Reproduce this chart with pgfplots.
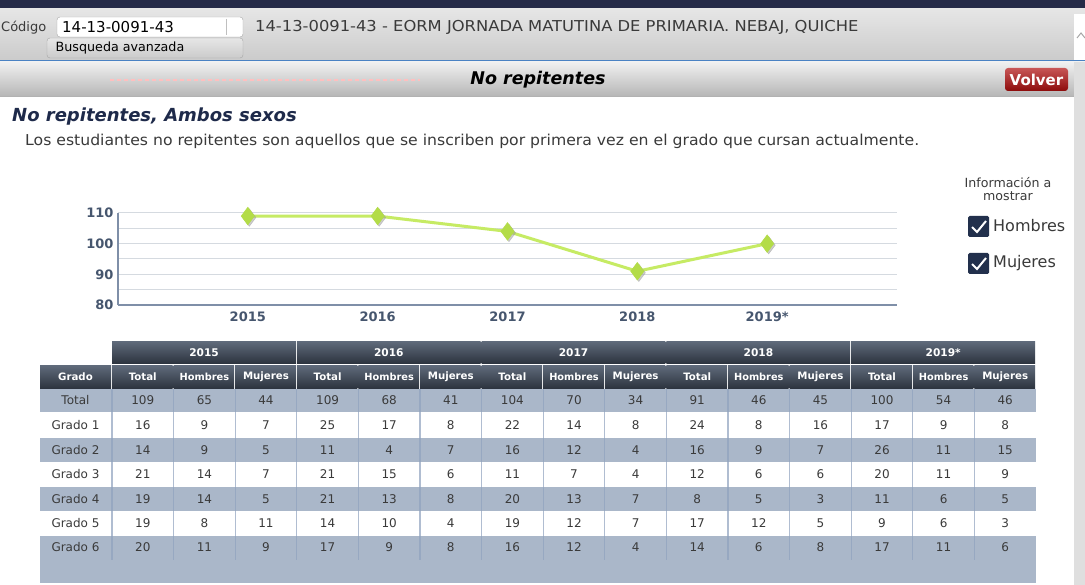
\documentclass[border=0pt]{standalone}
\usepackage{pgfplots}
\pgfplotsset{compat=1.18}
\usepackage{fontspec}
\setmainfont{DejaVu Sans}

\definecolor{navy}{HTML}{252B48}
\definecolor{hdrA}{HTML}{E6E6E6}
\definecolor{hdrB}{HTML}{CBCBCB}
\definecolor{bluebar}{HTML}{4A82C3}
\definecolor{titlenavy}{HTML}{1E2A4A}
\definecolor{txtgray}{HTML}{3A3A3A}
\definecolor{rowblue}{HTML}{AAB7C9}
\definecolor{hdA}{HTML}{5E6979}
\definecolor{hdB}{HTML}{2B323D}
\definecolor{sepblue}{HTML}{8FA2BE}
\definecolor{lime}{HTML}{C6EB64}
\definecolor{limemark}{HTML}{B3DC48}
\definecolor{ticktxt}{HTML}{46566E}
\definecolor{gridc}{HTML}{D5DAE0}
\definecolor{axisc}{HTML}{7F8FA8}
\definecolor{chk}{HTML}{22304C}
\definecolor{volver}{HTML}{B00E0E}

\newcommand{\fs}[1]{\fontsize{#1}{#1}\selectfont}

% table values, one macro per row (Total, Hombres, Mujeres for 2015..2019*)
\def\rowT{109,65,44,109,68,41,104,70,34,91,46,45,100,54,46}
\def\rowA{16,9,7,25,17,8,22,14,8,24,8,16,17,9,8}
\def\rowB{14,9,5,11,4,7,16,12,4,16,9,7,26,11,15}
\def\rowC{21,14,7,21,15,6,11,7,4,12,6,6,20,11,9}
\def\rowD{19,14,5,21,13,8,20,13,7,8,5,3,11,6,5}
\def\rowE{19,8,11,14,10,4,19,12,7,17,12,5,9,6,3}
\def\rowF{20,11,9,17,9,8,16,12,4,14,6,8,17,11,6}

\begin{document}
\begin{tikzpicture}[x=1pt,y=-1pt]
\useasboundingbox (0,0) rectangle (1085,585);
\fill[white] (0,0) rectangle (1085,585);

% ---- top header ----
\fill[navy] (0,0) rectangle (1085,9);
\shade[top color=hdrA,bottom color=hdrB] (0,9) rectangle (1085,60);
\node[anchor=west,text=txtgray,font=\fs{13},inner sep=0] at (1,28) {Código};
\draw[gray!70,fill=white,rounded corners=3pt] (57,17) rectangle (243,37);
\node[anchor=west,text=black,font=\fs{15},inner sep=0] at (62,27) {14-13-0091-43};
\draw[gray!50] (226,19) -- (226,35);
\shade[top color=hdrA,bottom color=hdrB,draw=gray!70,rounded corners=3pt] (47,38) rectangle (243,58);
\node[text=black,font=\fs{12.7},inner sep=0] at (120,48) {Busqueda avanzada};
\node[anchor=west,text=txtgray,font=\fs{15},inner sep=0] at (255,27)
  {\scalebox{1.09}[1]{14-13-0091-43 - EORM JORNADA MATUTINA DE PRIMARIA. NEBAJ, QUICHE}};
\fill[bluebar] (0,60) rectangle (1085,62);

% ---- title bar ----
\shade[top color=hdrA!60!white,bottom color=hdrB!90!black] (0,62) rectangle (1085,96);
\draw[gray!60] (0,96) -- (1085,96);
\draw[red!25,dash pattern=on 4pt off 3pt,line width=1.2pt] (110,80) -- (420,80);
\node[text=black,font=\bfseries\itshape\fs{17.5},inner sep=0] at (538,80) {No repitentes};
\shade[top color=volver!70!white,bottom color=volver!80!black,rounded corners=3pt] (1005,68) rectangle (1068,91);
\node[text=white,font=\bfseries\fs{15},inner sep=0] at (1036.5,79.5) {Volver};

% ---- scrollbar ----
\fill[gray!25] (1074,62) rectangle (1085,585);
\fill[white] (1074,14) rectangle (1085,60);
\draw[gray!70,line width=1pt] (1077,38) -- (1081,33) -- (1085,38);

% ---- headings ----
\node[anchor=west,text=titlenavy,font=\bfseries\itshape\fs{18},inner sep=0] at (12,117) {No repitentes, Ambos sexos};
\node[anchor=west,text=txtgray,font=\fs{15},inner sep=0] at (25,141)
  {\scalebox{1.045}[1]{Los estudiantes no repitentes son aquellos que se inscriben por primera vez en el grado que cursan actualmente.}};

% ---- chart ----
\begin{axis}[
    at={(118pt,-305pt)}, anchor=south west,
    scale only axis, width=779pt, height=92pt,
    xmin=-1, xmax=5, ymin=80, ymax=110,
    axis x line*=bottom, axis y line*=left,
    axis line style={axisc, line width=1.3pt, -},
    xtick={0,1,2,3,4},
    xticklabels={2015,2016,2017,2018,2019*},
    ytick={80,90,100,110},
    minor ytick={85,95,105},
    ymajorgrids, yminorgrids,
    major grid style={gridc, line width=1pt},
    minor grid style={gridc, line width=1pt},
    major tick length=0pt, minor tick length=0pt,
    /pgf/number format/assume math mode=true,
    tick label style={font=\bfseries\fs{13}, text=ticktxt},
    xticklabel style={yshift=-3pt},
    yticklabel style={xshift=-1pt},
    clip=false,
]
\addplot[only marks, mark=diamond*, mark size=8.8pt, black!40, opacity=0.5,
    mark options={xshift=1.5pt, yshift=-1.5pt}]
    coordinates {(0,109) (1,109) (2,104) (3,91) (4,100)};
\addplot[lime, line width=3pt, mark=diamond*, mark size=8.8pt,
    mark options={fill=limemark, draw=limemark, line width=0.5pt}]
    coordinates {(0,109) (1,109) (2,104) (3,91) (4,100)};
\end{axis}

% ---- legend (checkboxes) ----
\node[align=center,text=txtgray,font=\fs{12.6},inner sep=0] at (1008,189) {Información a\\[1pt]mostrar};
\foreach \yy/\lab in {216/Hombres,253/Mujeres}{
  \fill[chk,rounded corners=1.5pt] (968,\yy) rectangle (989,\yy+21);
  \draw[white,line width=2pt] (972,\yy+11) -- (977,\yy+16) -- (986,\yy+5);
  \node[anchor=west,text=txtgray,font=\fs{16},inner sep=0] at (993,\yy+10) {\lab};
}

% ---- table ----
% row bands
\fill[rowblue] (40,389) rectangle (1036,412);
\fill[rowblue] (40,438) rectangle (1036,462);
\fill[rowblue] (40,487) rectangle (1036,511);
\fill[rowblue] (40,536) rectangle (1036,583);
% header cells
\foreach \g [count=\k from 0] in {2015,2016,2017,2018,2019*}{
  \shade[top color=hdA,bottom color=hdB] (112+184.8*\k,342) rectangle (112+184.8*\k+183.8,364);
  \node[text=white,font=\bfseries\fs{10.6},inner sep=0] at (112+184.8*\k+92,353) {\g};
}
\shade[top color=hdA,bottom color=hdB] (40,366) rectangle (111,389);
\node[text=white,font=\bfseries\fs{10.2},inner sep=0] at (75.5,377) {Grado};
\foreach \k in {0,...,14}{
  \pgfmathsetmacro{\xl}{112+61.6*\k}
  \pgfmathsetmacro{\kk}{int(mod(\k,3))}
  \shade[top color=hdA,bottom color=hdB] (\xl,366) rectangle (\xl+60.6,389);
  \ifcase\kk
    \node[text=white,font=\bfseries\fs{10.2},inner sep=0] at (\xl+30.8,377) {Total};
  \or
    \node[text=white,font=\bfseries\fs{9.8},inner sep=0] at (\xl+30.8,377) {Hombres};
  \or
    \node[text=white,font=\bfseries\fs{10.2},inner sep=0] at (\xl+30.8,377) {Mujeres};
  \fi
}
% column separators
\foreach \k in {0,...,14}{
  \draw[sepblue,line width=1.2pt,opacity=0.7] (112+61.6*\k,389) -- (112+61.6*\k,560);
}
% cell values
\foreach \lab/\yy/\vals in {Total/400/\rowT,Grado 1/425/\rowA,Grado 2/450/\rowB,Grado 3/474/\rowC,Grado 4/499/\rowD,Grado 5/523/\rowE,Grado 6/547/\rowF}{
  \node[text=txtgray,font=\fs{12},inner sep=0] at (75.5,\yy) {\lab};
  \edef\vlist{\vals}
  \foreach \v [count=\i from 0] in \vlist {
    \node[text=txtgray,font=\fs{12},inner sep=0] at (142.8+61.6*\i,\yy) {\v};
  }
}
\end{tikzpicture}
\end{document}
